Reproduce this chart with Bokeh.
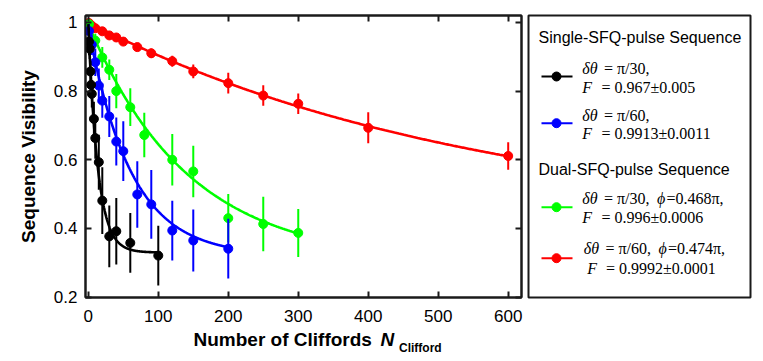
import numpy as np
from bokeh.plotting import figure
from bokeh.layouts import row, column
from bokeh.models import Range1d, LinearAxis, FixedTicker, ColumnDataSource
from bokeh.core.properties import value
from bokeh.embed import file_html
from bokeh.resources import INLINE

# ---------------- data ----------------
black_x = [1, 2, 3, 4, 5, 8, 10, 15, 20, 30, 40, 60, 100]
black_y = [0.944, 0.923, 0.857, 0.818, 0.792, 0.719, 0.663, 0.593, 0.481, 0.377, 0.392, 0.358, 0.321]
black_err = [0.04, 0.03, 0.03, 0.04, 0.04, 0.05, 0.06, 0.08, 0.097, 0.09, 0.097, 0.087, 0.087]

blue_x = [1, 5, 10, 15, 20, 30, 40, 50, 70, 90, 120, 150, 200]
blue_y = [0.975, 0.935, 0.884, 0.816, 0.772, 0.726, 0.653, 0.625, 0.499, 0.470, 0.394, 0.365, 0.341]
blue_err = [0.02, 0.03, 0.04, 0.05, 0.05, 0.06, 0.07, 0.087, 0.097, 0.1, 0.087, 0.09, 0.087]

green_x = [1, 10, 20, 30, 40, 60, 80, 120, 150, 200, 250, 300]
green_y = [0.995, 0.947, 0.898, 0.862, 0.800, 0.753, 0.672, 0.600, 0.566, 0.430, 0.413, 0.387]
green_err = [0.01, 0.02, 0.03, 0.03, 0.05, 0.055, 0.065, 0.075, 0.075, 0.07, 0.079, 0.07]

red_x = [1, 5, 10, 20, 30, 40, 50, 70, 90, 120, 150, 200, 250, 300, 400, 600]
red_y = [0.998, 0.990, 0.983, 0.974, 0.962, 0.956, 0.944, 0.928, 0.910, 0.887, 0.857, 0.823, 0.787, 0.763, 0.693, 0.611]
red_err = [0.005, 0.005, 0.006, 0.007, 0.008, 0.01, 0.01, 0.012, 0.014, 0.016, 0.02, 0.03, 0.03, 0.03, 0.045, 0.04]

# fit parameters V = A * p**N + B
black_fit = dict(A=0.665, B=0.33, p=0.930, nmax=100)
blue_fit = dict(A=0.665, B=0.32, p=0.9838, nmax=200)
green_fit = dict(A=0.695, B=0.30, p=0.99303, nmax=300)
red_fit = dict(A=0.60, B=0.40, p=0.998253, nmax=600)

x_ticks = [0, 100, 200, 300, 400, 500, 600]
x_tick_labels = ["0", "100", "200", "300", "400", "500", "600"]
y_ticks = [0.2, 0.4, 0.6, 0.8, 1.0]
y_tick_labels = ["0.2", "0.4", "0.6", "0.8", "1"]

y_axis_title = "Sequence Visibility"
x_axis_title = "Number of Cliffords"
x_axis_symbol = "N"
x_axis_sub = "Clifford"

legend_headers = ["Single-SFQ-pulse Sequence", "Dual-SFQ-pulse Sequence"]
legend_colors = ["black", "blue", "#00ff00", "red"]
legend_line1 = [["δθ", "= π/30,", "", ""],
                ["δθ", "= π/60,", "", ""],
                ["δθ", "= π/30,", "ϕ", "=0.468π,"],
                ["δθ", "= π/60,", "ϕ", "=0.474π,"]]
legend_line2 = [["F", "= 0.967±0.005"],
                ["F", "= 0.9913±0.0011"],
                ["F", "= 0.996±0.0006"],
                ["F", "= 0.9992±0.0001"]]

# ---------------- main plot ----------------
FRAME = "#1a1a1a"
SANS = "Liberation Sans"
SERIF = "Liberation Serif"

p = figure(frame_width=436, frame_height=282,
           x_range=Range1d(-4, 619), y_range=Range1d(0.199, 1.02),
           toolbar_location=None, output_backend="svg",
           min_border_left=85, min_border_right=4, min_border_top=15, min_border_bottom=28,
           background_fill_color="white", border_fill_color="white")
p.grid.visible = False
p.outline_line_color = FRAME
p.outline_line_width = 2


def style_axis(ax, ticks, labels, show_labels=True):
    ax.ticker = FixedTicker(ticks=ticks)
    ax.major_tick_in = 6
    ax.major_tick_out = 0
    ax.major_tick_line_width = 2
    ax.major_tick_line_color = FRAME
    ax.minor_tick_line_color = None
    ax.axis_line_color = FRAME
    ax.axis_line_width = 2
    ax.major_label_text_font = SANS
    if show_labels:
        ax.major_label_overrides = {t: l for t, l in zip(ticks, labels)}
        ax.major_label_text_font_size = "17px"
        ax.major_label_text_color = "black"
    else:
        ax.major_label_text_font_size = "0px"
        ax.major_label_text_color = None
        ax.major_label_standoff = 0


style_axis(p.xaxis[0], x_ticks, x_tick_labels)
p.xaxis[0].major_label_standoff = 12
style_axis(p.yaxis[0], y_ticks, y_tick_labels)
p.yaxis[0].major_label_standoff = 8
p.yaxis[0].axis_label = y_axis_title
p.yaxis[0].axis_label_text_font = SANS
p.yaxis[0].axis_label_text_font_style = "bold"
p.yaxis[0].axis_label_text_font_size = "19px"
p.yaxis[0].axis_label_text_color = "black"
p.yaxis[0].axis_label_standoff = 12

top_ax = LinearAxis()
style_axis(top_ax, x_ticks, x_tick_labels, show_labels=False)
p.add_layout(top_ax, "above")
right_ax = LinearAxis()
style_axis(right_ax, y_ticks, y_tick_labels, show_labels=False)
p.add_layout(right_ax, "right")

series = [
    (red_x, red_y, red_err, "red", red_fit),
    (green_x, green_y, green_err, "#00ff00", green_fit),
    (blue_x, blue_y, blue_err, "blue", blue_fit),
    (black_x, black_y, black_err, "black", black_fit),
]
for xs, ys, es, col, fit in series:
    src = ColumnDataSource(dict(
        x=xs, y=ys,
        lo=[y - e for y, e in zip(ys, es)],
        hi=[y + e for y, e in zip(ys, es)]))
    p.segment(x0="x", y0="lo", x1="x", y1="hi", source=src, line_color=col, line_width=2)
    nn = np.linspace(0, fit["nmax"], 400)
    p.line(nn, fit["A"] * fit["p"] ** nn + fit["B"], line_color=col, line_width=2.6)
    p.scatter("x", "y", source=src, size=9, fill_color=col, line_color=col)

# ---------------- legend panel (its frame is the legend box; page pixel coordinates) ----------------
leg = figure(frame_width=222, frame_height=282,
             x_range=Range1d(528, 750), y_range=Range1d(297, 15),
             toolbar_location=None, output_backend="svg",
             x_axis_location=None, y_axis_location=None,
             min_border_left=3, min_border_right=5, min_border_top=15, min_border_bottom=28,
             outline_line_color=FRAME, outline_line_width=2,
             background_fill_color="white", border_fill_color="white")
leg.grid.visible = False

leg.text(x=[538, 538], y=[37.1, 169.4], text=legend_headers, text_font=value(SANS),
         text_font_size="16px", text_color="black", text_baseline="middle")

glyph_y = [76, 122.7, 206.7, 257.7]
mid1 = [67.6, 114.6, 198.1, 247.6]
mid2 = [86.6, 133.1, 217.1, 267.6]
x_sym1 = [581.7, 581.7, 581.7, 583.3]
x_eq1 = [603.5, 603.5, 603.5, 605.0]
x_phi = [0, 0, 656.5, 658.0]
x_phieq = [0, 0, 666.0, 667.5]
x_sym2 = [581.7, 581.7, 581.7, 586.7]
x_eq2 = [601.0, 601.0, 601.0, 605.5]

leg.segment(x0=[541] * 4, y0=glyph_y, x1=[572] * 4, y1=glyph_y,
            line_color=legend_colors, line_width=2)
leg.scatter(x=[556] * 4, y=glyph_y, size=9, fill_color=legend_colors, line_color=legend_colors)

for i in range(4):
    l1 = legend_line1[i]
    l2 = legend_line2[i]
    leg.text(x=[x_sym1[i]], y=[mid1[i]], text=[l1[0]], text_font=value(SERIF),
             text_font_style="italic", text_font_size="16px", text_color="black",
             text_baseline="middle")
    leg.text(x=[x_eq1[i]], y=[mid1[i]], text=[l1[1]], text_font=value(SERIF),
             text_font_size="16px", text_color="black", text_baseline="middle")
    if l1[2]:
        leg.text(x=[x_phi[i]], y=[mid1[i]], text=[l1[2]], text_font=value(SERIF),
                 text_font_style="italic", text_font_size="16px", text_color="black",
                 text_baseline="middle")
        leg.text(x=[x_phieq[i]], y=[mid1[i]], text=[l1[3]], text_font=value(SERIF),
                 text_font_size="16px", text_color="black", text_baseline="middle")
    leg.text(x=[x_sym2[i]], y=[mid2[i]], text=[l2[0]], text_font=value(SERIF),
             text_font_style="italic", text_font_size="16px", text_color="black",
             text_baseline="middle")
    leg.text(x=[x_eq2[i]], y=[mid2[i]], text=[l2[1]], text_font=value(SERIF),
             text_font_size="16px", text_color="black", text_baseline="middle")

# ---------------- x-axis title strip (below the plot row) ----------------
XT_W, XT_H = 525, 32
xt = figure(width=XT_W, height=XT_H, x_range=Range1d(0, XT_W), y_range=Range1d(XT_H, 0),
            toolbar_location=None, output_backend="svg",
            x_axis_location=None, y_axis_location=None,
            min_border=0, outline_line_color=None,
            background_fill_color="white", border_fill_color="white")
xt.grid.visible = False
xt.text(x=[193], y=[14], text=[x_axis_title], text_font=value(SANS),
        text_font_style="bold", text_font_size="19px", text_color="black",
        text_baseline="middle")
xt.text(x=[380], y=[14], text=[x_axis_symbol], text_font=value(SANS),
        text_font_style="bold italic", text_font_size="19px", text_color="black",
        text_baseline="middle")
xt.text(x=[398.5], y=[22.5], text=[x_axis_sub], text_font=value(SANS),
        text_font_style="bold", text_font_size="12px", text_color="black",
        text_baseline="middle")

layout = column(row(p, leg, spacing=0), xt, spacing=0)
open("out.html", "w").write(file_html(layout, INLINE))
